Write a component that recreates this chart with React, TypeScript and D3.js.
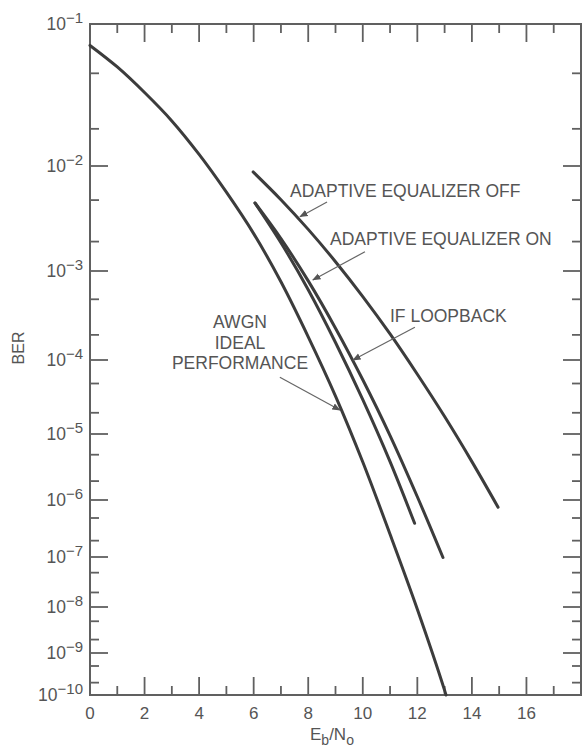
import React from "react";
import * as d3 from "d3";

const W = 583;
const H = 748;

// axis ticks
const EB_MAJOR = [0, 2, 4, 6, 8, 10, 12, 14, 16];
const EB_MINOR = [1, 3, 5, 7, 9, 11, 13, 15, 17];
const DECADES = [-1, -2, -3, -4, -5, -6, -7, -8, -9, -10];
const MINOR_MULT = [5, 2];

// series (Eb/No in dB, BER)
const AWGN_EB = [0, 1, 2, 3, 4, 5, 6, 7, 8, 9, 10, 11, 12, 13, 13.05];
const AWGN_BER = [7.5e-2, 5.5e-2, 3.7e-2, 2.3e-2, 1.25e-2, 5.9e-3, 2.4e-3, 7.7e-4, 1.9e-4, 3.4e-5, 3.9e-6, 2.6e-7, 9e-9, 1.3e-10, 1e-10];

const OFF_EB = [5.98, 7, 8, 9, 10, 11, 12, 13, 14, 14.96];
const OFF_BER = [8.9e-3, 5.04e-3, 2.64e-3, 1.25e-3, 5.35e-4, 2.05e-4, 6.6e-5, 1.77e-5, 3.95e-6, 7.6e-7];

const ON_EB = [6.05, 7, 8, 9, 10, 11, 12, 12.94];
const ON_BER = [4.7e-3, 2.14e-3, 7.87e-4, 2.39e-4, 5.6e-5, 9.5e-6, 1.13e-6, 9.8e-8];

const IF_EB = [6.05, 7, 8, 9, 10, 11, 11.9];
const IF_BER = [4.7e-3, 1.95e-3, 6.34e-4, 1.63e-4, 3.04e-5, 3.95e-6, 4.05e-7];

// annotation texts
const LABEL_OFF = "ADAPTIVE EQUALIZER OFF";
const LABEL_ON = "ADAPTIVE EQUALIZER ON";
const LABEL_IF = "IF LOOPBACK";
const LABEL_AWGN = ["AWGN", "IDEAL", "PERFORMANCE"];

// inverse of upper-tail normal probability: returns z with Q(z) = p
function qinv(p: number): number {
  const c = [-7.784894002430293e-3, -3.223964580411365e-1, -2.400758277161838, -2.549732539343734, 4.374664141464968, 2.938163982698783];
  const d = [7.784695709041462e-3, 3.224671290700398e-1, 2.445134137142996, 3.754408661907416];
  const q = Math.sqrt(-2 * Math.log(p));
  const x = (((((c[0] * q + c[1]) * q + c[2]) * q + c[3]) * q + c[4]) * q + c[5]) /
    ((((d[0] * q + d[1]) * q + d[2]) * q + d[3]) * q + 1);
  return -x;
}

// smooth monotone (Fritsch-Carlson) interpolating scale
function monotoneScale(xs: number[], ys: number[]) {
  const n = xs.length;
  const dk: number[] = [];
  for (let i = 0; i < n - 1; i++) dk.push((ys[i + 1] - ys[i]) / (xs[i + 1] - xs[i]));
  const m: number[] = new Array(n);
  m[0] = dk[0];
  m[n - 1] = dk[n - 2];
  for (let i = 1; i < n - 1; i++) m[i] = dk[i - 1] * dk[i] <= 0 ? 0 : (dk[i - 1] + dk[i]) / 2;
  for (let i = 0; i < n - 1; i++) {
    const a = m[i] / dk[i], b = m[i + 1] / dk[i];
    const s = a * a + b * b;
    if (s > 9) {
      const t = 3 / Math.sqrt(s);
      m[i] = t * a * dk[i];
      m[i + 1] = t * b * dk[i];
    }
  }
  return (v: number) => {
    if (v <= xs[0]) return ys[0] + (v - xs[0]) * m[0];
    if (v >= xs[n - 1]) return ys[n - 1] + (v - xs[n - 1]) * m[n - 1];
    let i = 0;
    while (v > xs[i + 1]) i++;
    const h = xs[i + 1] - xs[i];
    const t = (v - xs[i]) / h;
    const t2 = t * t, t3 = t2 * t;
    return (2 * t3 - 3 * t2 + 1) * ys[i] + (t3 - 2 * t2 + t) * h * m[i] + (-2 * t3 + 3 * t2) * ys[i + 1] + (t3 - t2) * h * m[i + 1];
  };
}

const LEFT = 90, RIGHT = 581, TOP = 24, BOTTOM = 695;
const DECADE_PX = [24, 166, 271, 360, 434, 500, 557, 607, 653, 695];

export default function App() {
  const x = d3.scaleLinear().domain([0, 18]).range([LEFT, RIGHT]);
  const yz = monotoneScale(DECADES.map((e) => qinv(Math.pow(10, e))), DECADE_PX);
  const y = (p: number) => yz(qinv(p));

  const line = d3.line<[number, number]>().x((d) => x(d[0])).y((d) => y(d[1])).curve(d3.curveCatmullRom.alpha(0.5));
  const series = [
    { eb: AWGN_EB, ber: AWGN_BER },
    { eb: OFF_EB, ber: OFF_BER },
    { eb: ON_EB, ber: ON_BER },
    { eb: IF_EB, ber: IF_BER },
  ];

  const majorY = DECADES.map((e) => Math.pow(10, e));
  const minorY: number[] = [];
  DECADES.slice(0, -1).forEach((e) => MINOR_MULT.forEach((m) => minorY.push(m * Math.pow(10, e - 1))));

  const axisColor = "#606060";
  const textColor = "#555";
  const curveColor = "#3c3c3c";
  const MAJ = 18, MIN = 9;

  const arrows = [
    { tail: [8.69, 4.8e-3], tip: [7.7, 3.5e-3] },
    { tail: [10.08, 1.58e-3], tip: [8.17, 8.05e-4] },
    { tail: [11.91, 2.45e-4], tip: [9.64, 1e-4] },
    { tail: [6.96, 6.05e-5], tip: [9.16, 2.18e-5] },
  ];

  const font = "Liberation Sans, Arial, Helvetica, sans-serif";

  return (
    <svg width={W} height={H} style={{ position: "absolute", left: 0, top: 0, background: "#fff" }} fontFamily={font}>
      <defs>
        <marker id="ah" viewBox="0 0 10 10" refX="9" refY="5" markerWidth="7" markerHeight="7" orient="auto">
          <path d="M0,1 L10,5 L0,9 z" fill="#555" />
        </marker>
      </defs>
      <rect x={0} y={0} width={W} height={H} fill="#fff" />
      {/* frame */}
      <rect x={LEFT} y={TOP} width={RIGHT - LEFT} height={BOTTOM - TOP} fill="none" stroke={axisColor} strokeWidth={2} />
      {/* x ticks */}
      {EB_MAJOR.concat(EB_MINOR).map((v) => {
        const len = EB_MAJOR.includes(v) ? MAJ : MIN;
        return (
          <g key={"xt" + v}>
            <line x1={x(v)} x2={x(v)} y1={BOTTOM} y2={BOTTOM - len} stroke={axisColor} strokeWidth={1.8} />
            <line x1={x(v)} x2={x(v)} y1={TOP} y2={TOP + len} stroke={axisColor} strokeWidth={1.8} />
          </g>
        );
      })}
      {EB_MAJOR.map((v) => (
        <text key={"xl" + v} x={x(v)} y={719} textAnchor="middle" fontSize={17} fill={textColor}>{v}</text>
      ))}
      {/* y ticks */}
      {majorY.map((p) => (
        <g key={"ym" + p}>
          <line x1={LEFT} x2={LEFT + MAJ} y1={y(p)} y2={y(p)} stroke={axisColor} strokeWidth={1.8} />
          <line x1={RIGHT} x2={RIGHT - MAJ} y1={y(p)} y2={y(p)} stroke={axisColor} strokeWidth={1.8} />
        </g>
      ))}
      {minorY.map((p) => (
        <g key={"yn" + p}>
          <line x1={LEFT} x2={LEFT + MIN} y1={y(p)} y2={y(p)} stroke={axisColor} strokeWidth={1.8} />
          <line x1={RIGHT} x2={RIGHT - MIN} y1={y(p)} y2={y(p)} stroke={axisColor} strokeWidth={1.8} />
        </g>
      ))}
      {DECADES.map((e) => (
        <text key={"yl" + e} x={83} y={y(Math.pow(10, e)) + 6} textAnchor="end" fontSize={17.5} fill={textColor}>
          10<tspan fontSize={15} dy={-7}>{"\u2212" + Math.abs(e)}</tspan>
        </text>
      ))}
      {/* axis titles */}
      <text x={310} y={740} fontSize={17} fill={textColor}>
        E<tspan fontSize={14} dy={5}>b</tspan><tspan dy={-5}>/N</tspan><tspan fontSize={14} dy={5}>o</tspan>
      </text>
      <text transform={`translate(24,${348}) rotate(-90)`} textAnchor="middle" fontSize={16} fill={textColor}>BER</text>
      {/* curves */}
      {series.map((s, i) => (
        <path key={"s" + i} d={line(s.eb.map((e, j) => [e, s.ber[j]] as [number, number])) || ""} fill="none" stroke={curveColor} strokeWidth={3} strokeLinecap="round" />
      ))}
      {/* annotations */}
      {arrows.map((a, i) => (
        <line key={"ar" + i} x1={x(a.tail[0])} y1={y(a.tail[1])} x2={x(a.tip[0])} y2={y(a.tip[1])} stroke="#666" strokeWidth={1.2} markerEnd="url(#ah)" />
      ))}
      <text x={290} y={197} fontSize={17.5} fill={textColor}>{LABEL_OFF}</text>
      <text x={330} y={245} fontSize={17.5} fill={textColor}>{LABEL_ON}</text>
      <text x={390} y={322} fontSize={17.5} fill={textColor}>{LABEL_IF}</text>
      {LABEL_AWGN.map((t, i) => (
        <text key={t} x={240} y={328 + i * 20.5} textAnchor="middle" fontSize={17.5} fill={textColor}>{t}</text>
      ))}
    </svg>
  );
}
